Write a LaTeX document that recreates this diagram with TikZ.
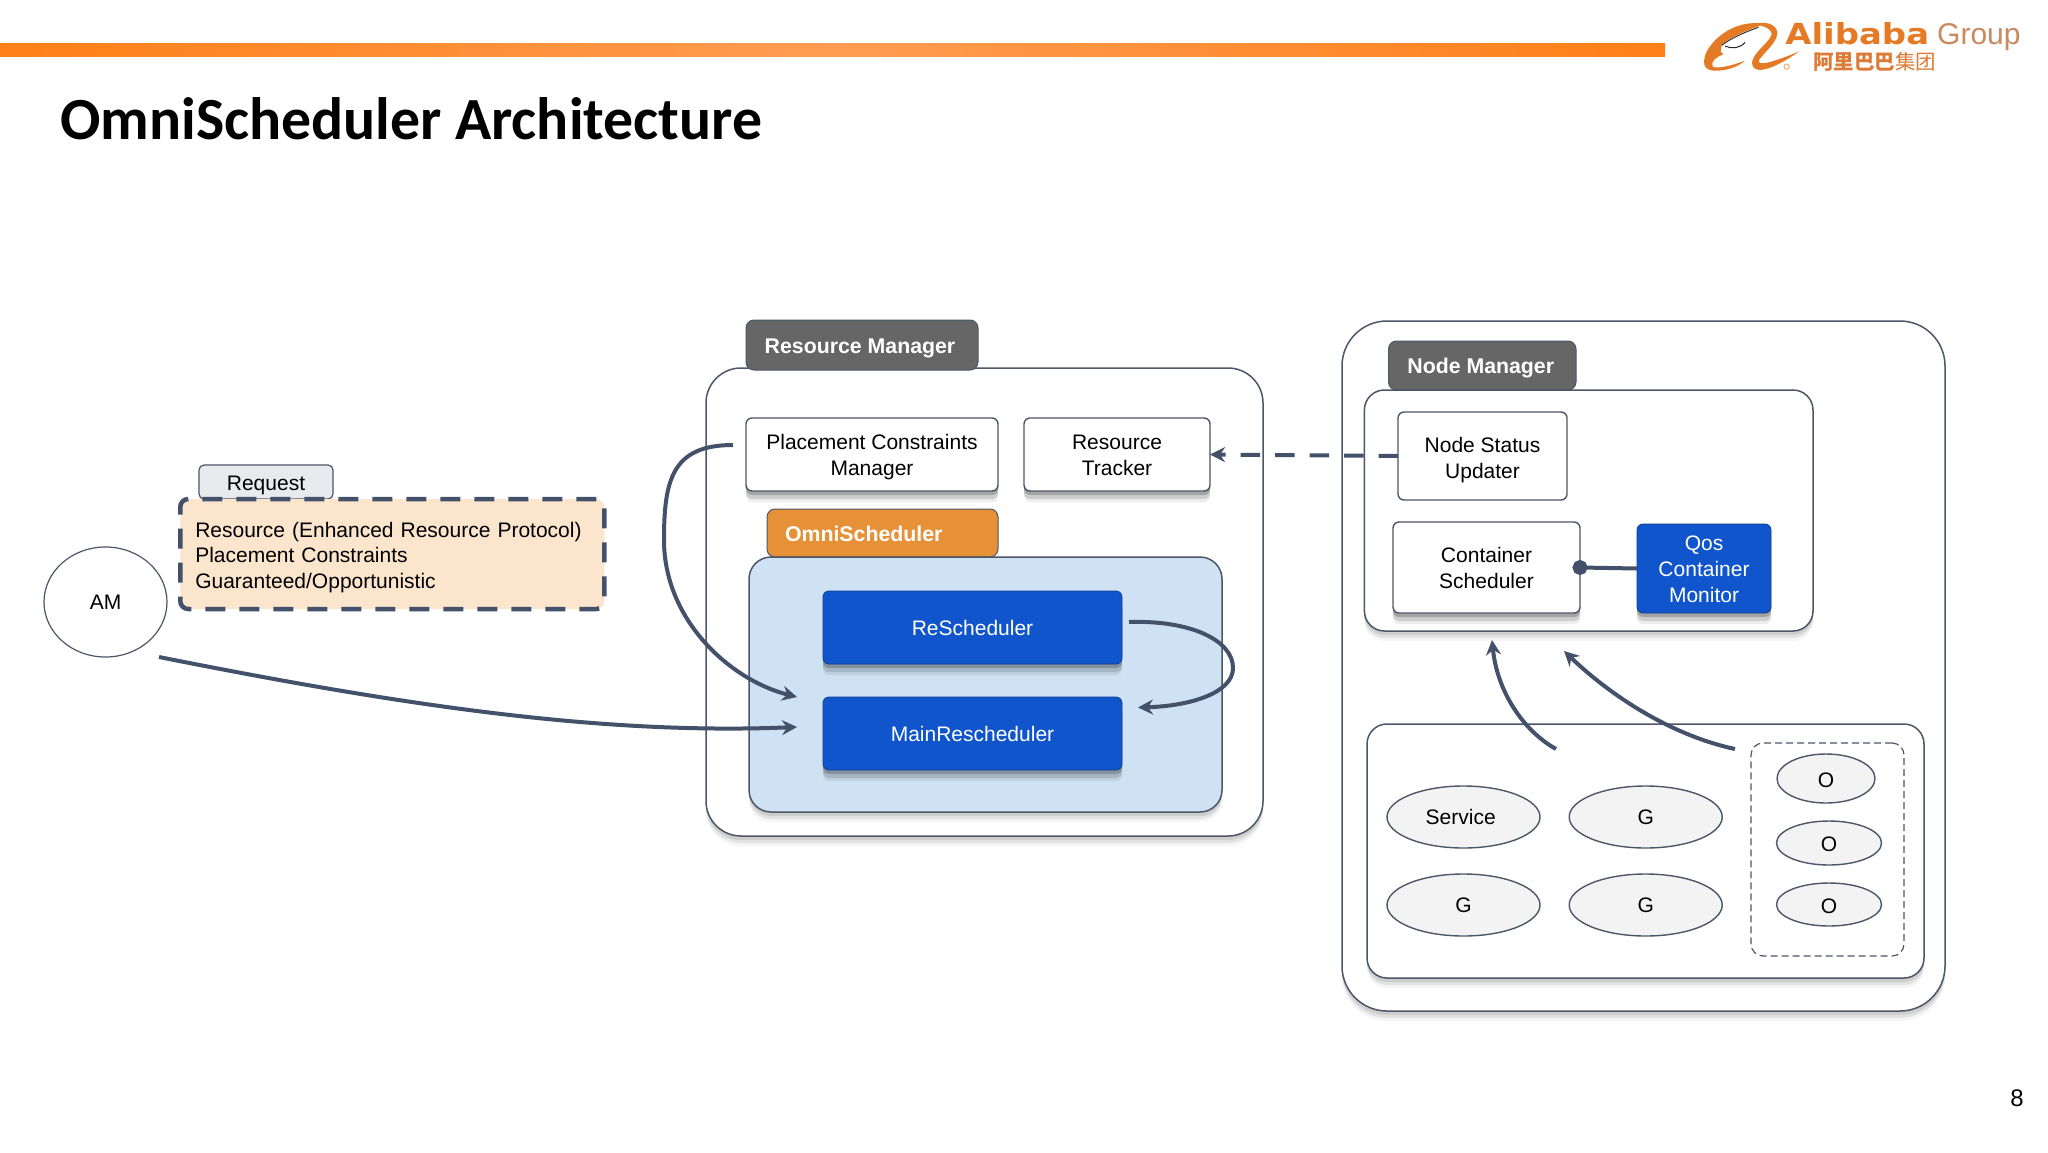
\documentclass[tikz,border=0pt]{standalone}
\usepackage{fontspec}
\setmainfont{Liberation Sans}
\newfontfamily\titlefont{Carlito}
\newfontfamily\cjkf{Noto Sans CJK SC}
\newfontfamily\logofont{DejaVu Sans}
\usetikzlibrary{shapes.geometric,arrows.meta,shadows,calc}
\definecolor{linec}{HTML}{44516A}
\definecolor{edgec}{HTML}{4D5568}
\definecolor{tabgray}{HTML}{666666}
\definecolor{tabor}{HTML}{E69138}
\definecolor{paleblue}{HTML}{CFE2F3}
\definecolor{deepblue}{HTML}{1155CC}
\definecolor{peach}{HTML}{FCE5CD}
\definecolor{ellfill}{HTML}{F3F3F3}
\definecolor{reqfill}{HTML}{E9EAEE}
\definecolor{logoor}{HTML}{E57A24}
\definecolor{logotx}{HTML}{DD7A35}
\definecolor{logogr}{HTML}{C98A60}
\definecolor{barend}{HTML}{FF7F17}
\definecolor{barmid}{HTML}{FF9C52}
\tikzset{
  softshadow/.style={
    general shadow={shadow yshift=-10pt,fill=black,opacity=.04},
    general shadow={shadow yshift=-7pt,fill=black,opacity=.07},
    general shadow={shadow yshift=-4pt,fill=black,opacity=.09}},
  strongshadow/.style={
    general shadow={shadow yshift=-11pt,fill=black,opacity=.07},
    general shadow={shadow yshift=-8pt,fill=black,opacity=.13},
    general shadow={shadow yshift=-4pt,fill=black,opacity=.2}},
  base/.style={rectangle,inner sep=0pt,outer sep=0pt,align=center,
    font=\fontsize{21}{25.7}\selectfont},
  group/.style={base,draw=edgec,line width=1.5pt,fill=white,softshadow},
  whitebox/.style={base,draw=edgec,line width=1.4pt,fill=white,rounded corners=6pt},
  bluebox/.style={base,fill=deepblue,draw=deepblue!70!black,line width=.8pt,text=white,
    rounded corners=6pt,strongshadow},
  tab/.style={base,fill=tabgray,draw=edgec,line width=1pt,text=white,rounded corners=8pt,
    text height=20pt,text depth=4pt,font=\fontsize{21.3}{25.7}\selectfont\bfseries},
  oval/.style={ellipse,draw=edgec,line width=1.4pt,fill=ellfill,inner sep=0pt,
    font=\fontsize{21}{25.7}\selectfont},
  conn/.style={draw=linec,line width=4pt},
  tipped/.style={conn,-{Stealth[length=15pt,width=15pt,inset=5pt]}},
}
\begin{document}
\begin{tikzpicture}[x=1pt,y=-1pt]
\useasboundingbox[fill=white] (0,0) rectangle (2048,1152);

% top band and title
\path[left color=barend,right color=barend,middle color=barmid] (0,43) rectangle (1665,56);
\node[anchor=base west,inner sep=0pt,font=\titlefont\fontsize{59.8}{62}\selectfont\bfseries] (title) at (60,139) {OmniScheduler Architecture};
\node[anchor=base,inner sep=0pt,font=\fontsize{24}{26}\selectfont] (pagenum) at (2017,1106) {8};

% logo
\begin{scope}[shift={(1690,10)},x=.3333pt,y=-.3333pt]
  \fill[logoor] (225,42) .. controls (150,28) and (80,70) .. (50,125)
     .. controls (30,170) and (50,185) .. (85,182)
     .. controls (115,180) and (145,170) .. (165,152)
     .. controls (130,165) and (85,178) .. (68,170)
     .. controls (60,155) and (80,140) .. (100,133)
     -- (92,125) -- (95,105)
     .. controls (115,85) and (170,60) .. (225,42) -- cycle;
  \fill[logoor] (195,42) .. controls (235,30) and (265,50) .. (262,72)
     .. controls (258,100) and (225,125) .. (207,150)
     .. controls (203,160) and (215,162) .. (232,158)
     .. controls (265,150) and (300,135) .. (327,125)
     .. controls (290,150) and (245,178) .. (210,180)
     .. controls (190,180) and (180,165) .. (190,145)
     .. controls (200,120) and (245,90) .. (245,70)
     .. controls (243,55) and (220,48) .. (195,42) -- cycle;
  \draw[black!85,line width=.9pt] (95,106) .. controls (130,80) and (170,65) .. (205,52);
  \draw[black!85,line width=1pt] (105,108) .. controls (125,118) and (150,115) .. (165,97);
  \draw[logoor!70!white,line width=.8pt] (290,170) circle (8);
\end{scope}
\node[anchor=base west,inner sep=0pt,text=logoor,font=\logofont\fontsize{29}{30}\selectfont\bfseries,xscale=1.17] (alibaba) at (1785,44) {Alibaba};
\node[anchor=base west,inner sep=0pt,text=logogr,font=\fontsize{30}{31}\selectfont] (grouptxt) at (1937,44) {Group};
\node[anchor=base west,inner sep=0pt,text=logotx,font=\cjkf\fontsize{20.5}{21}\selectfont\bfseries] (cjklogo) at (1813,69) {阿里巴巴\textmd{集团}};

% application master and request
\node[ellipse,draw=edgec,line width=1.2pt,fill=white,inner sep=0pt,minimum width=123pt,minimum height=110pt,font=\fontsize{21}{25.7}\selectfont] (am) at (105.5,602) {AM};
\node[base,draw=edgec,line width=1.2pt,fill=reqfill,rounded corners=5pt,minimum width=134pt,minimum height=34pt,text height=20pt,text depth=4pt] (request) at (266,482) {Request};
\node[base,draw=linec,line width=4.5pt,dash pattern=on 20pt off 14pt,fill=peach,rounded corners=8pt,text width=394pt,inner xsep=15pt,align=left,minimum height=110pt,text height=15pt,text depth=49pt] (reqbody) at (392.25,554) {Resource (Enhanced Resource Protocol)\\Placement Constraints\\Guaranteed/Opportunistic};

% resource manager
\node[group,rounded corners=35pt,minimum width=557pt,minimum height=468pt] (rm) at (984.5,602) {};
\node[tab,minimum width=232pt,minimum height=50pt] (rmtab) at (862,345) {Resource Manager\kern4pt};
\node[whitebox,strongshadow,minimum width=252pt,minimum height=73pt,text height=41pt,text depth=0pt] (pcm) at (872,454.5) {Placement Constraints\\Manager};
\node[whitebox,strongshadow,minimum width=186pt,minimum height=73pt,text height=41pt,text depth=0pt] (rt) at (1117,454.5) {Resource\\Tracker};
\node[tab,fill=tabor,minimum height=48pt,text width=195pt,inner xsep=18pt,align=left] (omnitab) at (882.5,533) {OmniScheduler};
\node[base,draw=edgec,line width=1.5pt,fill=paleblue,rounded corners=22pt,softshadow,minimum width=473pt,minimum height=255pt] (omni) at (985.5,684.5) {};
\node[bluebox,minimum width=299pt,minimum height=73pt] (resch) at (972.5,627.5) {ReScheduler};
\node[bluebox,minimum width=299pt,minimum height=73pt] (mainre) at (972.5,733.5) {MainRescheduler};

% node manager
\node[group,rounded corners=45pt,minimum width=603pt,minimum height=690pt] (nm) at (1643.5,666) {};
\node[tab,minimum width=187.5pt,minimum height=49pt] (nmtab) at (1482.25,365.5) {Node Manager\kern3pt};
\node[group,rounded corners=20pt,minimum width=448.6pt,minimum height=241pt] (nminner) at (1588.7,510.5) {};
\node[whitebox,minimum width=169pt,minimum height=88pt,text height=44pt,text depth=0pt] (nsu) at (1482.5,456) {Node Status\\Updater};
\node[whitebox,strongshadow,minimum width=187pt,minimum height=91pt,text height=41pt,text depth=0pt] (cs) at (1486.5,567.5) {Container\\Scheduler};
\node[bluebox,minimum width=134pt,minimum height=89pt,text height=67pt,text depth=0pt] (qos) at (1704,568.5) {Qos\\Container\\Monitor};

% worker box
\node[group,rounded corners=20pt,minimum width=557pt,minimum height=254pt] (pool) at (1645.5,851) {};
\node[oval,minimum width=153pt,minimum height=62pt] (svc) at (1463.5,817) {Service\kern5.6pt};
\node[oval,minimum width=153pt,minimum height=62pt] (g1) at (1645.7,817) {G};
\node[oval,minimum width=153pt,minimum height=62pt] (g2) at (1463.5,905) {G};
\node[oval,minimum width=153pt,minimum height=62pt] (g3) at (1645.7,905) {G};
\node[base,draw=edgec,line width=1.2pt,dash pattern=on 7pt off 4pt,rounded corners=12pt,minimum width=153pt,minimum height=213pt] (ogroup) at (1827.5,849.5) {};
\node[oval,minimum width=98pt,minimum height=49pt,text height=17pt,text depth=0pt] (o1) at (1826,778.5) {O};
\node[oval,minimum width=105pt,minimum height=44pt,text height=17pt,text depth=0pt] (o2) at (1829,843) {O};
\node[oval,minimum width=105pt,minimum height=43pt,text height=17pt,text depth=0pt] (o3) at (1829,904.5) {O};

% free ends of the connectors, which stop short of the boxes
\coordinate (amout) at (159,657);
\coordinate (mainin) at (797,727);
\coordinate (pcmout) at (733,445);
\coordinate (mainin2) at (797,697);
\coordinate (reout) at (1129,622);
\coordinate (mainin3) at (1138,707.5);
\coordinate (svcout) at (1556,749);
\coordinate (nmin1) at (1492,640);
\coordinate (oout) at (1735,749);
\coordinate (nmin2) at (1564,651);

% connectors
\draw[tipped] (amout) .. controls (400,705) and (600,735) .. (mainin);
\draw[tipped] (pcmout) .. controls (672,445) and (664,480) .. (664,540)
   .. controls (664,620) and (730,680) .. (mainin2);
\draw[tipped] (reout) .. controls (1190,620) and (1233,640) .. (1233,668)
   .. controls (1233,693) and (1190,706) .. (mainin3);
\draw[tipped,dash pattern=on 19.5pt off 15pt] (nsu.west) -- (rt.east);
\draw[conn,{Circle[length=15pt,width=15pt]}-,shorten <=-7.5pt] (cs.east) -- (qos.west);
\draw[tipped] (svcout) .. controls (1522,730) and (1497,690) .. (nmin1);
\draw[tipped] (oout) .. controls (1670,735) and (1610,695) .. (nmin2);
\end{tikzpicture}
\end{document}
